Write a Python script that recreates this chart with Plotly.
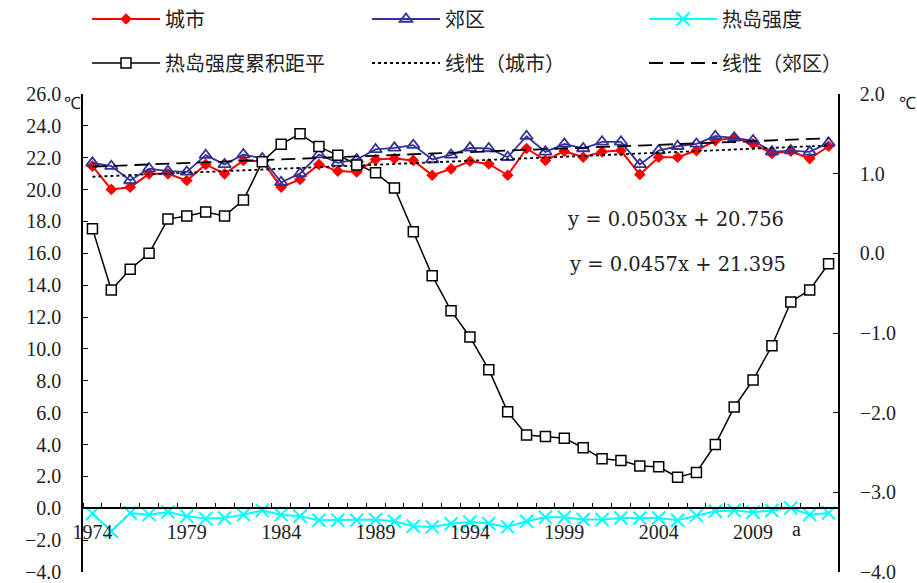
import plotly.graph_objects as go

years = list(range(1974, 2014))

city = [21.47, 20.01, 20.15, 20.99, 20.99, 20.57, 21.58, 20.99, 21.83, 21.78,
        20.15, 20.64, 21.58, 21.16, 21.11, 21.89, 21.95, 21.83, 20.90, 21.30,
        21.78, 21.61, 20.90, 22.58, 21.83, 22.41, 22.03, 22.37, 22.45, 20.95,
        22.03, 22.03, 22.45, 23.08, 23.25, 22.87, 22.27, 22.41, 21.95, 22.72]

suburb = [21.68, 21.47, 20.57, 21.32, 21.16, 21.11, 22.16, 21.58, 22.20, 21.95,
          20.46, 21.01, 22.20, 21.68, 21.89, 22.52, 22.62, 22.79, 21.89, 22.18,
          22.62, 22.58, 22.03, 23.35, 22.37, 22.87, 22.58, 23.00, 23.00, 21.58,
          22.45, 22.72, 22.87, 23.35, 23.25, 23.08, 22.37, 22.45, 22.37, 22.93]

heat = [-0.33, -1.44, -0.30, -0.40, -0.23, -0.50, -0.65, -0.61, -0.40, -0.14,
        -0.40, -0.50, -0.75, -0.75, -0.75, -0.71, -0.82, -1.13, -1.17, -0.97,
        -0.86, -0.96, -1.17, -0.82, -0.56, -0.56, -0.71, -0.71, -0.61, -0.61,
        -0.61, -0.75, -0.46, -0.19, -0.14, -0.25, -0.14, 0.02, -0.40, -0.30]

cum_anom = [0.31, -0.46, -0.20, 0.00, 0.43, 0.47, 0.52, 0.47, 0.67, 1.15,
            1.37, 1.50, 1.34, 1.23, 1.11, 1.01, 0.82, 0.27, -0.28, -0.72,
            -1.05, -1.46, -1.99, -2.28, -2.30, -2.32, -2.44, -2.58, -2.60, -2.67,
            -2.68, -2.81, -2.75, -2.40, -1.93, -1.59, -1.16, -0.61, -0.46, -0.13]

# Excel linear trendlines (x = 1..n), coefficients as printed on the chart
city_slope, city_intercept = 0.0503, 20.756
sub_slope, sub_intercept = 0.0457, 21.395
eq_city = "y = 0.0503x + 20.756"
eq_sub = "y = 0.0457x + 21.395"

idx = list(range(1, len(years) + 1))
city_trend = [city_slope * i + city_intercept for i in idx]
sub_trend = [sub_slope * i + sub_intercept for i in idx]

num_font = "Liberation Serif"
cjk_font = "Noto Sans CJK SC"

fig = go.Figure()

fig.add_trace(go.Scatter(
    x=years, y=city, name="城市", mode="lines+markers",
    line=dict(color="#FF0000", width=2),
    marker=dict(symbol="diamond", size=9, color="#FF0000"),
    legend="legend", legendgroup="g1", legendrank=1))
fig.add_trace(go.Scatter(
    x=years, y=suburb, name="郊区", mode="lines+markers",
    line=dict(color="#333399", width=1.8),
    marker=dict(symbol="triangle-up-open", size=11, color="#333399",
                line=dict(width=1.8, color="#333399")),
    legend="legend2", legendgroup="g2", legendrank=1))
fig.add_trace(go.Scatter(
    x=years, y=heat, name="热岛强度", mode="lines+markers",
    line=dict(color="#00FFFF", width=2),
    marker=dict(symbol="x-thin-open", size=13, color="#00FFFF",
                line=dict(width=2, color="#00FFFF")),
    legend="legend3", legendgroup="g3", legendrank=1))
fig.add_trace(go.Scatter(
    x=years, y=city_trend, name="线性（城市）", mode="lines",
    line=dict(color="black", width=1.8, dash="3px,3px"),
    legend="legend2", legendgroup="g5", legendrank=2))
fig.add_trace(go.Scatter(
    x=years, y=sub_trend, name="线性（郊区）", mode="lines",
    line=dict(color="black", width=1.8, dash="14px,7px"),
    legend="legend3", legendgroup="g6", legendrank=2))
fig.add_trace(go.Scatter(
    x=years, y=cum_anom, name="热岛强度累积距平", mode="lines+markers",
    yaxis="y2",
    line=dict(color="black", width=1.5),
    marker=dict(symbol="square", size=10, color="white",
                line=dict(width=1.5, color="black")),
    legend="legend", legendgroup="g4", legendrank=2))

leg_common = dict(orientation="v", xref="container", yref="container",
                  xanchor="left", yanchor="middle", itemwidth=68,
                  y=1 - 41 / 583,
                  font=dict(family=cjk_font, size=20, color="#222222"),
                  bgcolor="rgba(0,0,0,0)", traceorder="grouped",
                  tracegroupgap=15)

fig.update_layout(
    width=917, height=583,
    margin=dict(l=83, r=79, t=94, b=11, autoexpand=False),
    paper_bgcolor="white", plot_bgcolor="white",
    showlegend=True,
    legend=dict(x=87 / 917, **leg_common),
    legend2=dict(x=367 / 917, **leg_common),
    legend3=dict(x=644 / 917, **leg_common),
    xaxis=dict(
        range=[1973.5, 2013.5], anchor="free", position=4 / 30,
        showline=True, linecolor="black", linewidth=1.5,
        showgrid=False, zeroline=False,
        tick0=1974, dtick=5, ticks="", ticklabelstandoff=6,
        tickfont=dict(family=num_font, size=20, color="#222222"),
        minor=dict(ticks="inside", ticklen=5, tickwidth=1.3, tickcolor="black",
                   tick0=1973.5, dtick=1, showgrid=False),
    ),
    yaxis=dict(
        range=[-4, 26], tick0=-4, dtick=2, tickformat=".1f",
        showline=True, linecolor="black", linewidth=1.5,
        showgrid=False, zeroline=False,
        ticks="inside", ticklen=5, tickwidth=1.3, tickcolor="black",
        ticklabelstandoff=16,
        tickfont=dict(family=num_font, size=20, color="#222222"),
    ),
    yaxis2=dict(
        range=[-4, 2], tick0=-4, dtick=1, tickformat=".1f",
        overlaying="y", side="right", anchor="x",
        showline=True, linecolor="black", linewidth=1.5,
        showgrid=False, zeroline=False,
        ticks="inside", ticklen=5, tickwidth=1.3, tickcolor="black",
        ticklabelstandoff=16,
        tickfont=dict(family=num_font, size=20, color="#222222"),
    ),
    annotations=[
        dict(text="℃", xref="paper", yref="paper", x=0.0, y=1.005,
             xanchor="right", yanchor="top", showarrow=False,
             font=dict(family=num_font, size=17, color="#222222")),
        dict(text="℃", xref="paper", yref="paper", x=1.078, y=1.005,
             xanchor="left", yanchor="top", showarrow=False,
             font=dict(family=num_font, size=17, color="#222222")),
        dict(text="a", xref="x", yref="y", x=2011.3, y=-1.3,
             xanchor="center", yanchor="middle", showarrow=False,
             font=dict(family=num_font, size=20, color="#222222")),
        dict(text=eq_city, xref="x", yref="y", x=1999.05, y=18.1,
             xanchor="left", yanchor="middle", showarrow=False,
             font=dict(family="DejaVu Serif", size=19.5, color="#222222")),
        dict(text=eq_sub, xref="x", yref="y", x=1999.15, y=15.3,
             xanchor="left", yanchor="middle", showarrow=False,
             font=dict(family="DejaVu Serif", size=19.5, color="#222222")),
    ],
)

fig.write_html("out.html",
               config={"displayModeBar": False},
               post_script="document.body.style.margin='0px';"
                           "document.body.style.overflow='hidden';")
